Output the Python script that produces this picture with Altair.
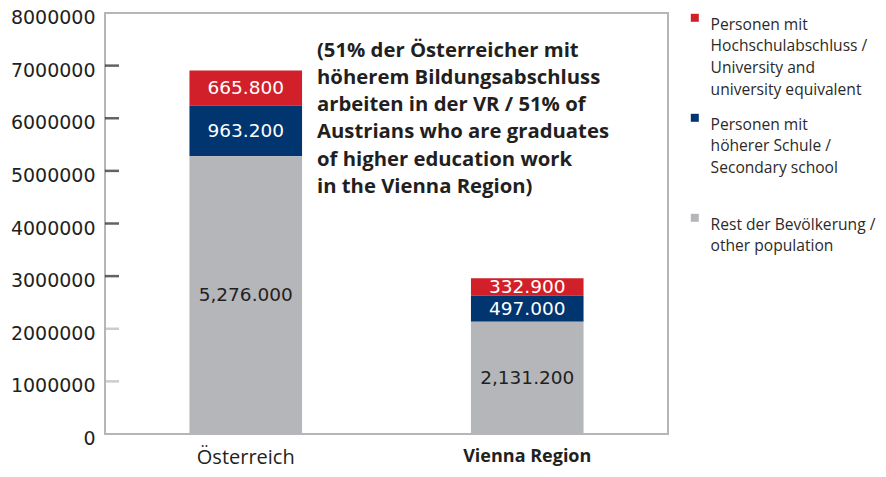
import altair as alt
import pandas as pd

# ---- data -------------------------------------------------------------
categories = ["Österreich", "Vienna Region"]
series = [
    "Personen mit|Hochschulabschluss /|University and|university equivalent",
    "Personen mit|höherer Schule /|Secondary school| ",
    "Rest der Bevölkerung /|other population",
]
series_colors = ["#d2202a", "#00356f", "#b5b6ba"]
series_stack_order = [2, 1, 0]

university = [665800, 332900]
secondary = [963200, 497000]
rest = [5276000, 2131200]

university_labels = ["665.800", "332.900"]
secondary_labels = ["963.200", "497.000"]
rest_labels = ["5,276.000", "2,131.200"]

y_tick_values = [0, 1000000, 2000000, 3000000, 4000000, 5000000, 6000000, 7000000, 8000000]
dark_ticks = [3000000, 4000000, 5000000, 6000000, 7000000]
light_ticks = [1000000, 2000000]

note_lines = [
    "(51% der Österreicher mit",
    "höherem Bildungsabschluss",
    "arbeiten in der VR / 51% of",
    "Austrians who are graduates",
    "of higher education work",
    "in the Vienna Region)",
]

# ---- table ------------------------------------------------------------
rows = []
for i, cat in enumerate(categories):
    for s, vals, labs in zip(range(3), [university, secondary, rest],
                             [university_labels, secondary_labels, rest_labels]):
        rows.append({
            "category": cat,
            "series": series[s],
            "order": series_stack_order[s],
            "value": vals[i],
            "label": labs[i],
        })
df = pd.DataFrame(rows)

DARK = "#231f20"

X = alt.X(
    "category:N",
    sort=categories,
    title=None,
    scale=alt.Scale(paddingInner=0.6, paddingOuter=0.3),
    axis=alt.Axis(
        labelAngle=0,
        labelFont="Open Sans",
        labelFontSize={"condition": {"test": "datum.value == 'Vienna Region'", "value": 18}, "value": 20},
        labelFontWeight={"condition": {"test": "datum.value == 'Vienna Region'", "value": "bold"}, "value": "normal"},
        labelColor=DARK,
        labelPadding=13,
        labelBaseline="top",
    ),
)

yscale = alt.Scale(domain=[0, 8000000], nice=False, zero=True)

base = (
    alt.Chart(df)
    .transform_stack(
        stack="value", as_=["y0", "y1"], groupby=["category"],
        sort=[alt.SortField("order", order="ascending")],
    )
    .transform_calculate(mid="(datum.y0 + datum.y1) / 2")
)

bars = base.mark_bar().encode(
    x=X,
    y=alt.Y("y0:Q", scale=yscale, title=None,
            axis=alt.Axis(values=y_tick_values, format="d")),
    y2="y1:Q",
    color=alt.Color(
        "series:N",
        scale=alt.Scale(domain=series, range=series_colors),
        legend=alt.Legend(
            title=None,
            orient="none",
            legendX=582,
            legendY=-3,
            symbolType="square",
            symbolSize=64,
            symbolStrokeWidth=0,
            labelExpr="split(datum.label, '|')",
            labelFont="Open Sans",
            labelFontSize=15.6,
            labelColor="#2b2a29",
            labelBaseline="top",
            labelOffset=8,
            labelLimit=400,
            rowPadding=11,
            padding=0,
        ),
    ),
)

labels = base.mark_text(font="DejaVu Sans", fontSize=18.5).encode(
    x=X,
    y=alt.Y("mid:Q", scale=yscale, title=None),
    text="label:N",
    color=alt.condition("datum.order == 0", alt.value(DARK), alt.value("#ffffff")),
)

ticks_dark = alt.Chart(pd.DataFrame({"v": dark_ticks})).mark_tick(
    color=DARK, thickness=2.5, size=14
).encode(y=alt.Y("v:Q", scale=yscale, title=None), x=alt.value(7))

ticks_light = alt.Chart(pd.DataFrame({"v": light_ticks})).mark_tick(
    color="#b5b6ba", thickness=2.5, size=14
).encode(y=alt.Y("v:Q", scale=yscale, title=None), x=alt.value(7))

note = alt.Chart(pd.DataFrame({"t": [0]})).mark_text(
    align="left", baseline="alphabetic", font="Open Sans", fontWeight="bold",
    fontSize=20.3, lineHeight=27.3, color=DARK,
).encode(x=alt.value(212), y=alt.value(43.5), text=alt.value(note_lines))

chart = (
    alt.layer(bars, ticks_dark, ticks_light, labels, note)
    .properties(
        width=563,
        height=421,
        autosize=alt.AutoSizeParams(type="none"),
        padding={"left": 97, "top": 5, "right": 210, "bottom": 35},
    )
    .configure(style={"guide-label": {"lineHeight": 21.6}})
    .configure_view(stroke="#b5b6ba", strokeWidth=2)
    .configure_axis(domain=False, ticks=False, grid=False, labelColor=DARK)
    .configure_axisY(labelFont="DejaVu Sans", labelFontSize=19, labelPadding=10, labelOffset=4.5)
)

chart.save("out.html", embed_options={"renderer": "svg", "actions": False})
